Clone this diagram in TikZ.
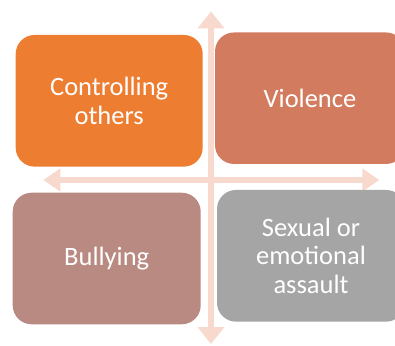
\documentclass[tikz,border=0pt]{standalone}
\usepackage{fontspec}
\setmainfont{Carlito}
\usetikzlibrary{arrows.meta}
\definecolor{cOrange}{HTML}{ED7D31}
\definecolor{cViol}{HTML}{D27B5E}
\definecolor{cBully}{HTML}{B98A82}
\definecolor{cGray}{HTML}{A5A5A5}
\definecolor{cAxis}{HTML}{F8D9CE}
\tikzset{
  quad/.style={rounded corners=19pt, inner sep=0pt, text=white, align=center,
    font=\fontsize{26.5}{28.5}\selectfont},
  axisline/.style={draw=cAxis, line width=6pt,
    {Triangle[length=17pt,width=26pt]}-{Triangle[length=17pt,width=26pt]}},
  axislineh/.style={draw=cAxis, line width=6pt,
    {Triangle[length=17pt,width=22pt]}-{Triangle[length=17pt,width=22pt]}}
}
\begin{document}
\begin{tikzpicture}[x=1pt,y=-1pt]
\useasboundingbox (0,0) rectangle (395,345);
\clip (0,0) rectangle (395,345);
\fill[white] (0,0) rectangle (395,345);
\coordinate (vtop) at (211,11.5);
\coordinate (vbot) at (211,344);
\coordinate (hleft) at (43.3,180);
\coordinate (hright) at (379.3,180);
\draw[axisline] (vtop) -- (vbot);
\draw[axislineh] (hleft) -- (hright);
\node[quad, fill=cOrange, minimum width=187pt, minimum height=131.7pt] (ctrl) at (109.2,100.8) {Controlling\\others};
\node[quad, fill=cViol, minimum width=190pt, minimum height=131.5pt] (viol) at (310,98.2) {Violence};
\node[quad, fill=cBully, minimum width=188pt, minimum height=131.6pt] (bully) at (106.7,258.5) {Bullying};
\node[quad, fill=cGray, minimum width=188pt, minimum height=131.7pt] (sex) at (311,255.8) {Sexual or\\emotional\\assault};
\end{tikzpicture}
\end{document}
